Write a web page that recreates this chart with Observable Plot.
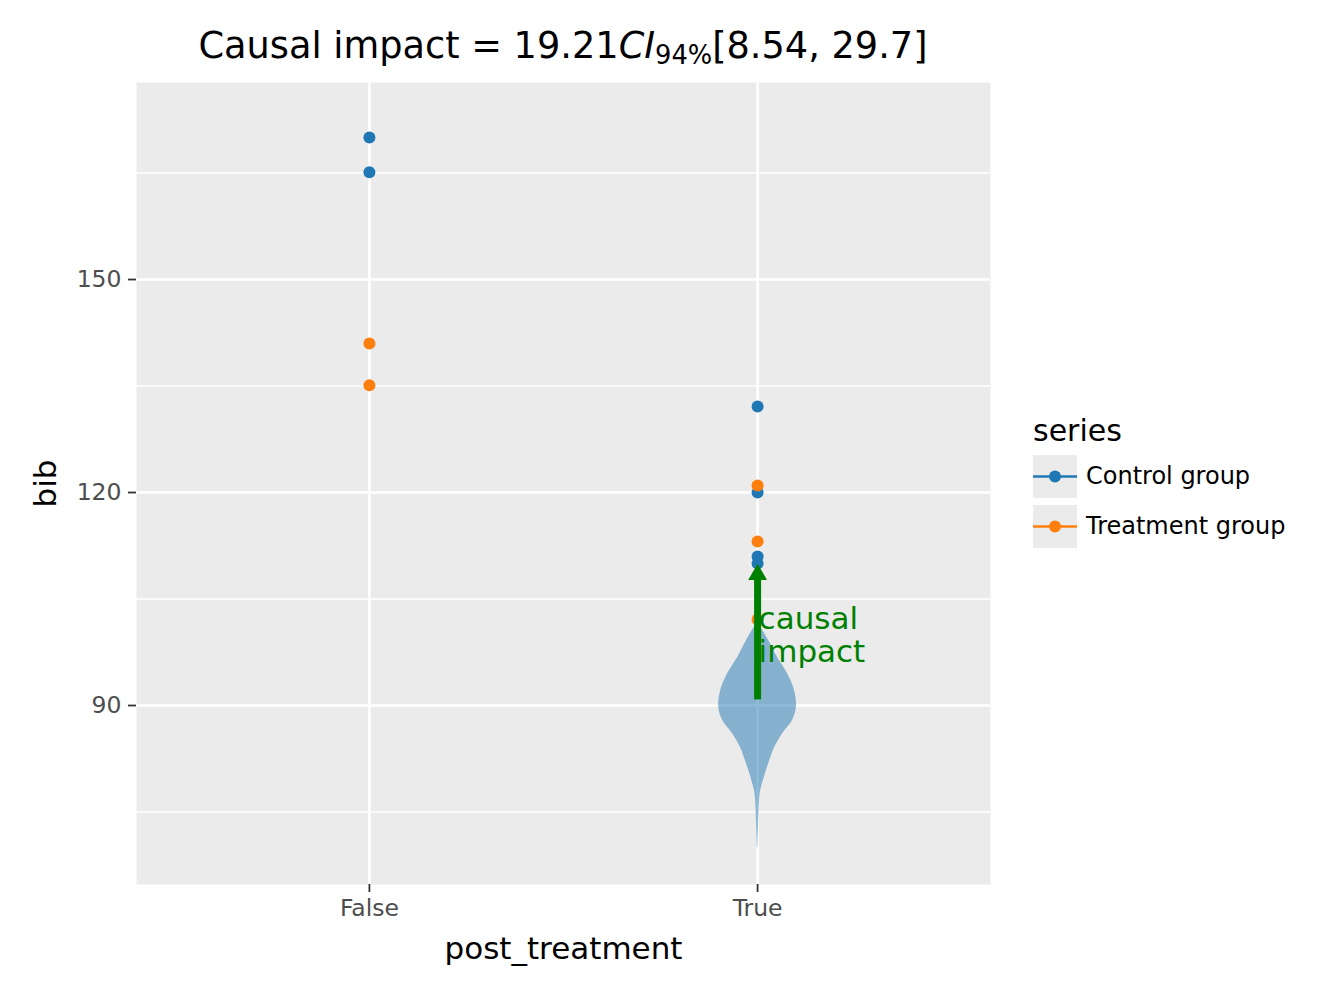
<!DOCTYPE html>
<html>
<head>
<meta charset="utf-8">
<script src="https://cdn.jsdelivr.net/npm/d3@7"></script>
<script src="https://cdn.jsdelivr.net/npm/@observablehq/plot@0.6"></script>
<style>
  html, body { margin: 0; padding: 0; background: #ffffff; }
  #fig { position: relative; width: 1320px; height: 999px; font-family: "DejaVu Sans", sans-serif; color: #000; }
  #chart { position: absolute; left: 0; top: 0; }
  #title { position: absolute; left: 136px; width: 854px; top: 28px; text-align: center; font-size: 36.7px; white-space: nowrap; line-height: 1; }
  #title .ci { font-style: italic; }
  #title .sub { font-size: 0.7em; position: relative; top: 0.22em; }
  #legend { position: absolute; left: 1033px; top: 411px; }
  #legend .ltitle { font-size: 30px; height: 40px; line-height: 40px; }
  #legend .row { display: flex; align-items: center; height: 50px; }
  #legend .row span { font-size: 24px; margin-left: 9px; }
</style>
</head>
<body>
<div id="fig">
  <div id="chart"></div>
  <div id="title"></div>
  <div id="legend"></div>
</div>
<script>
// Categories on the x axis and the two series
const categories = ["False", "True"];
const seriesNames = ["Control group", "Treatment group"];
const seriesColors = ["#1f77b4", "#ff7f0e"];

// Observed values (bib) before / after treatment
const controlPre = [170.0, 165.1];
const controlPost = [132.1, 120.0, 111.0, 110.0];
const treatmentPre = [141.0, 135.1];
const treatmentPost = [121.0, 113.1, 102.1];

// Posterior counterfactual distribution (violin profile at post_treatment = True)
const violinY = [101.8, 99.2, 96.8, 94.5, 92.1, 89.8, 87.9, 86.0, 84.1, 82.2, 80.4, 78.0, 76.6, 73.3, 70.0];
const violinDensity = [0.0, 0.28, 0.51, 0.77, 0.95, 1.0, 0.9, 0.64, 0.44, 0.31, 0.2, 0.08, 0.05, 0.025, 0.008];

// Causal impact summary
const causalImpact = 19.21;
const ciLow = 8.54;
const ciHigh = 29.7;
const counterfactualMean = 90.79;

// Tick values
const majorTicks = [90, 120, 150];
const minorTicks = [75, 105, 135, 165];

// Build tables for the marks
const points = [];
[[controlPre, controlPost], [treatmentPre, treatmentPost]].forEach(([pre, post], s) => {
  pre.forEach(v => points.push({pos: 1, value: v, series: seriesNames[s]}));
  post.forEach(v => points.push({pos: 2, value: v, series: seriesNames[s]}));
});
const violin = violinY.map((v, i) => ({v, d: violinDensity[i]}));
const violinHalfWidth = 0.1;
const treatmentMean = counterfactualMean + causalImpact;

const chart = Plot.plot({
  width: 1320,
  height: 999,
  marginLeft: 136,
  marginRight: 330,
  marginTop: 82,
  marginBottom: 115,
  x: {domain: [0.4, 2.6]},
  y: {domain: [64.79, 177.75]},
  color: {domain: seriesNames, range: seriesColors},
  style: {fontFamily: "DejaVu Sans", background: "transparent", overflow: "visible"},
  marks: [
    Plot.frame({fill: "#EBEBEB", stroke: "none"}),
    Plot.ruleY(minorTicks, {stroke: "white", strokeWidth: 1.3}),
    Plot.ruleY(majorTicks, {stroke: "white", strokeWidth: 2.6}),
    Plot.ruleX([1, 2], {stroke: "white", strokeWidth: 2.6}),
    Plot.axisY({ticks: majorTicks, tickSize: 8, tickPadding: 7, fontSize: 23.5, label: null,
      color: "#4D4D4D", stroke: "#333333", strokeWidth: 1.8}),
    Plot.axisX({ticks: [1, 2], tickFormat: d => categories[d - 1], tickSize: 8, tickPadding: 7,
      fontSize: 23.5, label: null, color: "#4D4D4D", stroke: "#333333", strokeWidth: 1.8}),
    Plot.text(["bib"], {text: d => d, frameAnchor: "left", textAnchor: "middle", dx: -90, rotate: -90, fontSize: 31, fill: "black"}),
    Plot.text(["post_treatment"], {text: d => d, frameAnchor: "bottom", dy: 74, fontSize: 31, fill: "black"}),
    Plot.areaX(violin, {
      y: "v",
      x1: d => 2 - d.d * violinHalfWidth,
      x2: d => 2 + d.d * violinHalfWidth,
      fill: "#1f77b4", fillOpacity: 0.5, curve: "catmull-rom"
    }),
    Plot.dot(points, {x: "pos", y: "value", fill: "series", r: 6, stroke: "none"}),
    // arrow shaft from the counterfactual up to the head, then a filled head
    Plot.ruleX([2], {y1: treatmentMean, y2: counterfactualMean, stroke: "green", strokeWidth: 7, insetTop: 14}),
    Plot.dot([treatmentMean], {x: 2, y: d => d, symbol: "triangle", r: 7, fill: "green", stroke: "none", dy: 11}),
    Plot.text(["causal\nimpact"], {
      text: d => d, x: 2, y: (counterfactualMean + treatmentMean) / 2,
      textAnchor: "start", dx: 1, dy: 3, lineAnchor: "middle", lineHeight: 1.07, fontSize: 31, fill: "green"
    })
  ]
});
document.getElementById("chart").appendChild(chart);

// Title with italic CI and subscript level
document.getElementById("title").innerHTML =
  `Causal impact = ${causalImpact.toFixed(2)}<span class="ci">CI</span><span class="sub">94%</span>[${ciLow}, ${ciHigh}]`;

// Legend: grey key box, line and dot per series
const legend = document.getElementById("legend");
legend.innerHTML = `<div class="ltitle">series</div>` + seriesNames.map((name, i) => `
  <div class="row">
    <svg width="44" height="43">
      <rect width="44" height="43" fill="#EBEBEB"></rect>
      <line x1="0" x2="44" y1="21.5" y2="21.5" stroke="${seriesColors[i]}" stroke-width="2.7"></line>
      <circle cx="22" cy="21.5" r="6" fill="${seriesColors[i]}"></circle>
    </svg>
    <span>${name}</span>
  </div>`).join("");
</script>
</body>
</html>
